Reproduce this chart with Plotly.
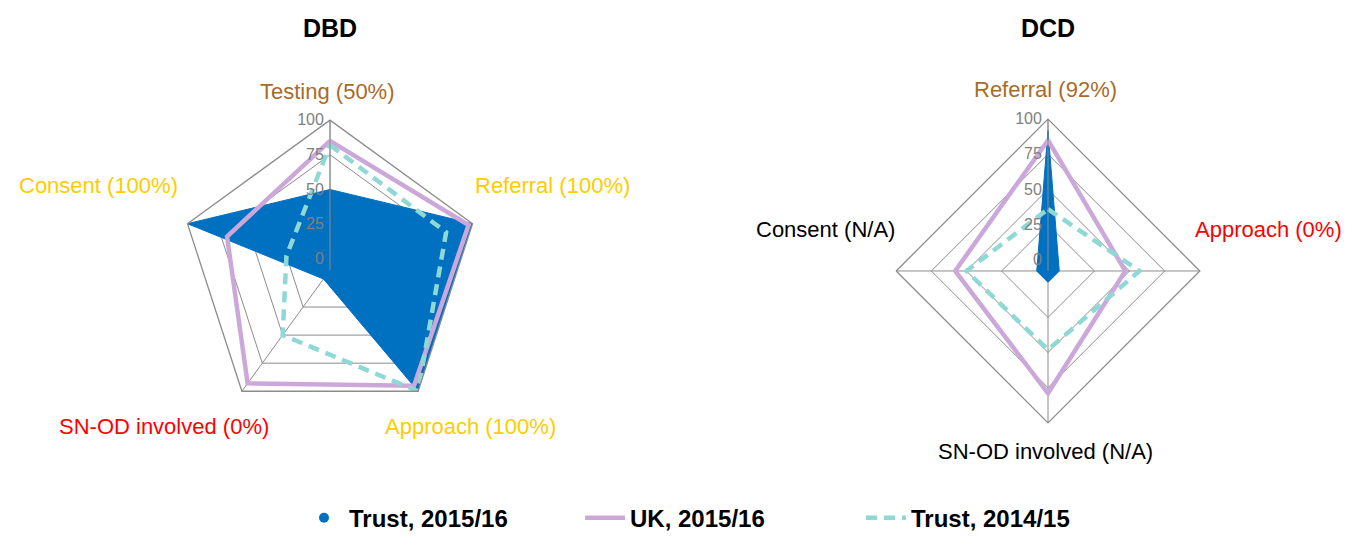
import plotly.graph_objects as go

# ---------------- data ----------------
dbd_categories = ["Testing", "Referral", "Approach", "SN-OD involved", "Consent"]
dbd_trust_1516 = [50, 100, 100, 0, 100]
dbd_uk_1516 = [85, 97, 95, 93, 70]
dbd_trust_1415 = [82, 80, 100, 50, 25]
dbd_label_text = ["Testing (50%)", "Referral (100%)", "Approach (100%)",
                  "SN-OD involved (0%)", "Consent (100%)"]
dbd_label_colors = ["#A86B2A", "#FFCC00", "#FFCC00", "#FF0000", "#FFCC00"]

dcd_categories = ["Referral", "Approach", "SN-OD involved", "Consent"]
dcd_trust_1516 = [92, 0, 0, 0]
dcd_uk_1516 = [85, 47, 79, 58]
dcd_trust_1415 = [36, 57, 48, 50]
dcd_label_text = ["Referral (92%)", "Approach (0%)", "SN-OD involved (N/A)", "Consent (N/A)"]
dcd_label_colors = ["#A86B2A", "#FF0000", "#000000", "#000000"]

radial_ticks = [0, 25, 50, 75, 100]
series_names = ["Trust, 2015/16", "UK, 2015/16", "Trust, 2014/15"]

BLUE = "#0070C0"
PURPLE = "#CCA8DA"
TEAL = "#8ED9D5"
GRID = "#8C8C8C"
FONT = "Liberation Sans, Arial, sans-serif"
W, H = 1362, 541


def closed(v):
    return list(v) + [v[0]]


fig = go.Figure()

for polar, cats, t16, uk, t15 in [
    ("polar", dbd_categories, dbd_trust_1516, dbd_uk_1516, dbd_trust_1415),
    ("polar2", dcd_categories, dcd_trust_1516, dcd_uk_1516, dcd_trust_1415),
]:
    fig.add_trace(go.Scatterpolar(
        r=closed(t16), theta=closed(cats), subplot=polar, mode="lines",
        fill="toself", fillcolor=BLUE, line=dict(color=BLUE, width=1),
        name=series_names[0], showlegend=False))
    fig.add_trace(go.Scatterpolar(
        r=closed(uk), theta=closed(cats), subplot=polar, mode="lines",
        line=dict(color=PURPLE, width=4.5), name=series_names[1],
        showlegend=(polar == "polar"), legendrank=2))
    fig.add_trace(go.Scatterpolar(
        r=closed(t15), theta=closed(cats), subplot=polar, mode="lines",
        line=dict(color=TEAL, width=4.5, dash="11px,7px"), name=series_names[2],
        showlegend=(polar == "polar"), legendrank=3))

# legend entry for Trust 2015/16 shown as a dot
fig.add_trace(go.Scatterpolar(
    r=[None], theta=[dbd_categories[0]], subplot="polar", mode="markers",
    marker=dict(color=BLUE, size=10), name=series_names[0], showlegend=True,
    legendrank=1))


def polar_layout(domx, domy):
    return dict(
        domain=dict(x=domx, y=domy),
        gridshape="linear",
        bgcolor="white",
        radialaxis=dict(range=[-8, 100], tickvals=radial_ticks, angle=90,
                        tickangle=90, side="counterclockwise",
                        showline=True, linecolor=GRID, linewidth=1,
                        gridcolor=GRID, gridwidth=1, ticks="",
                        tickfont=dict(family=FONT, size=16, color="#808080")),
        angularaxis=dict(direction="clockwise", rotation=90, showticklabels=False,
                         ticks="", linecolor=GRID, linewidth=1.3, gridcolor=GRID,
                         gridwidth=1),
    )


c1x, c1y, r1 = 330, 272, 151
c2x, c2y, r2 = 1048, 273, 153
fig.update_layout(
    polar=polar_layout([(c1x - r1) / W, (c1x + r1) / W],
                       [(H - c1y - r1) / H, (H - c1y + r1) / H]),
    polar2=polar_layout([(c2x - r2) / W, (c2x + r2) / W],
                        [(H - c2y - r2) / H, (H - c2y + r2) / H]),
)

annotations = []
# titles
for txt, x in [("DBD", 330), ("DCD", 1048)]:
    annotations.append(dict(text=f"<b>{txt}</b>", x=x / W, y=(H - 28) / H,
                            xref="paper", yref="paper", showarrow=False,
                            xanchor="center", yanchor="middle",
                            font=dict(family=FONT, size=25, color="black")))

# category labels (pixel anchors)
dbd_pos = [(327, 92, "center"), (473, 187, "left"), (383, 430, "left"),
           (271, 430, "right"), (180, 187, "right")]
dcd_pos = [(1045, 90, "center"), (1193, 231, "left"), (1045, 455, "center"),
           (897, 231, "right")]
for texts, colors, pos in [(dbd_label_text, dbd_label_colors, dbd_pos),
                           (dcd_label_text, dcd_label_colors, dcd_pos)]:
    for t, c, (x, y, xa) in zip(texts, colors, pos):
        annotations.append(dict(text=t, x=x / W, y=(H - y) / H, xref="paper", yref="paper",
                                showarrow=False, xanchor=xa, yanchor="middle",
                                font=dict(family=FONT, size=22, color=c)))

fig.update_layout(
    annotations=annotations,
    width=W, height=H,
    margin=dict(l=0, r=0, t=0, b=0),
    paper_bgcolor="white",
    plot_bgcolor="white",
    showlegend=True,
    legend=dict(orientation="h", x=299 / W, y=(H - 522) / H, xanchor="left",
                yanchor="middle",
                font=dict(family=FONT, size=24, color="black", weight="bold"),
                itemwidth=40, traceorder="normal",
                entrywidth=226, entrywidthmode="pixels"),
)

fig.write_html("out.html", config={"displayModeBar": False},
               post_script="document.body.style.margin='0px';")
